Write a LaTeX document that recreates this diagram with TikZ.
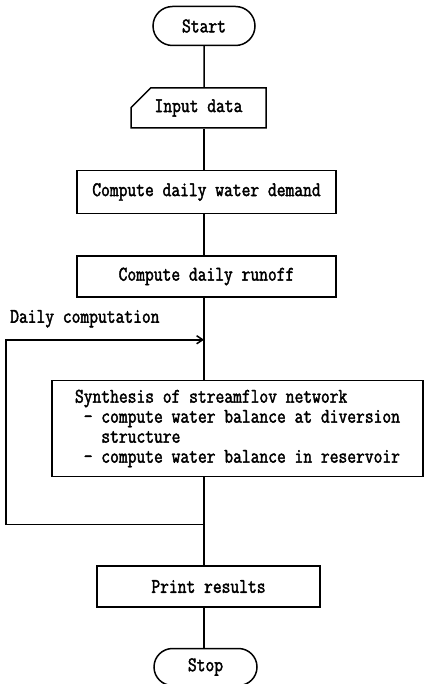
\documentclass[tikz,border=0pt]{standalone}
\usepackage{fontspec}
\newfontfamily\flowfont[FakeStretch=0.82,FakeBold=2]{Latin Modern Mono}
\usetikzlibrary{arrows.meta,positioning,shapes.misc,calc}

\begin{document}
\begin{tikzpicture}[
  font=\flowfont\fontsize{20.8}{20}\selectfont,
  terminal/.style={draw,rounded rectangle,line width=1.5pt,minimum width=102pt,minimum height=39pt,inner sep=0pt},
  card/.style={draw,chamfered rectangle,chamfered rectangle corners=north west,chamfered rectangle xsep=13pt,chamfered rectangle ysep=11pt,line width=1.5pt,minimum width=135pt,minimum height=40pt,inner sep=0pt},
  process/.style={draw,rectangle,line width=1.5pt,minimum width=259pt,minimum height=42pt,inner sep=0pt},
  line/.style={line width=1.5pt},
  loop/.style={line width=1.5pt,-{Straight Barb[length=6pt,width=8pt]}}
]
\useasboundingbox (0,0) rectangle (425pt,-684pt);
\node[terminal] (start) at (204pt,-26pt) {Start};
\node[card,below=41pt of start,xshift=-5.5pt] (input) {Input data};
\node[process,minimum height=43pt,below=41pt of input,xshift=8pt] (demand) {Compute daily water demand};
\node[process,minimum height=41pt,below=41pt of demand] (runoff) {Compute daily runoff};
\node[process,minimum width=371pt,minimum height=96pt,align=left,below=82pt of runoff,xshift=31pt] (synth)
  {Synthesis of streamflov network\\~- compute water balance at diversion\\~~~structure\\~- compute water balance in reservoir};
\node[process,minimum width=223pt,minimum height=41pt,below=88pt of synth,xshift=-29pt] (print) {Print results};
\node[terminal,minimum width=103pt,minimum height=37pt,below=40pt of print,xshift=-3pt] (stop) {Stop};
% main line
\draw[line] (start) -- (start |- input.north);
\draw[line] (start |- input.south) -- (start |- demand.north);
\draw[line] (start |- demand.south) -- (start |- runoff.north);
\draw[line] (start |- runoff.south) -- (start |- synth.north);
\draw[line] (start |- synth.south) -- (start |- print.north);
\draw[line] (start |- print.south) -- (start |- stop.north);
% daily loop
\coordinate (loopin) at ($(start |- runoff.south)+(0,-42pt)$);
\coordinate (loopout) at ($(start |- synth.south)+(0,-47pt)$);
\coordinate (loopcorner) at ($(loopout)+(-198pt,0)$);
\draw[loop] (loopout) -- (loopcorner) |- (loopin);
\node[anchor=base west,inner sep=0pt] (looplabel) at ($(loopcorner |- loopin)+(4pt,17pt)$) {Daily computation};
\end{tikzpicture}
\end{document}
